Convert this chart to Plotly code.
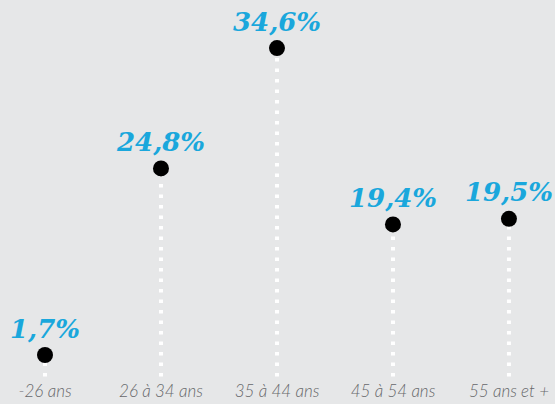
import plotly.graph_objects as go

categories = ["-26 ans", "26 à 34 ans", "35 à 44 ans", "45 à 54 ans", "55 ans et +"]
values = [1.7, 24.8, 34.6, 19.4, 19.5]
value_labels = ["1,7%", "24,8%", "34,6%", "19,4%", "19,5%"]
# marker heights as drawn in the (non-proportional) infographic
drawn_heights = [1.7, 21.7, 34.6, 15.7, 16.3]

BASE = -0.6
BG = "#e6e7e8"
BLUE = "#1aa7dc"

fig = go.Figure()
xs = list(range(len(categories)))

for i, h in zip(xs, drawn_heights):
    fig.add_trace(go.Scatter(
        x=[i, i], y=[BASE, h], mode="lines",
        line=dict(color="white", width=4, dash="3.5px,7px"),
        hoverinfo="skip", showlegend=False))

fig.add_trace(go.Scatter(
    x=xs, y=drawn_heights, mode="markers+text",
    marker=dict(color="black", size=16),
    text=value_labels, textposition="top center",
    textfont=dict(family="DejaVu Serif", size=26, color=BLUE, weight="bold", style="italic"),
    customdata=values, hovertemplate="%{customdata}%<extra></extra>",
    showlegend=False))

fig.update_layout(
    width=555, height=404,
    margin=dict(l=0, r=0, t=0, b=25),
    paper_bgcolor=BG, plot_bgcolor=BG,
    xaxis=dict(range=[-0.388, 4.397], tickvals=xs, ticktext=categories,
               showgrid=False, zeroline=False, showline=False, ticks="",
               tickfont=dict(family="Lato", size=17, color="#67686b", style="italic", weight=300)),
    yaxis=dict(range=[-0.87, 39.75], visible=False, showgrid=False, zeroline=False),
)

fig.write_html("out.html", config={"displayModeBar": False},
               post_script="document.body.style.margin='0';document.body.style.overflow='hidden';")
